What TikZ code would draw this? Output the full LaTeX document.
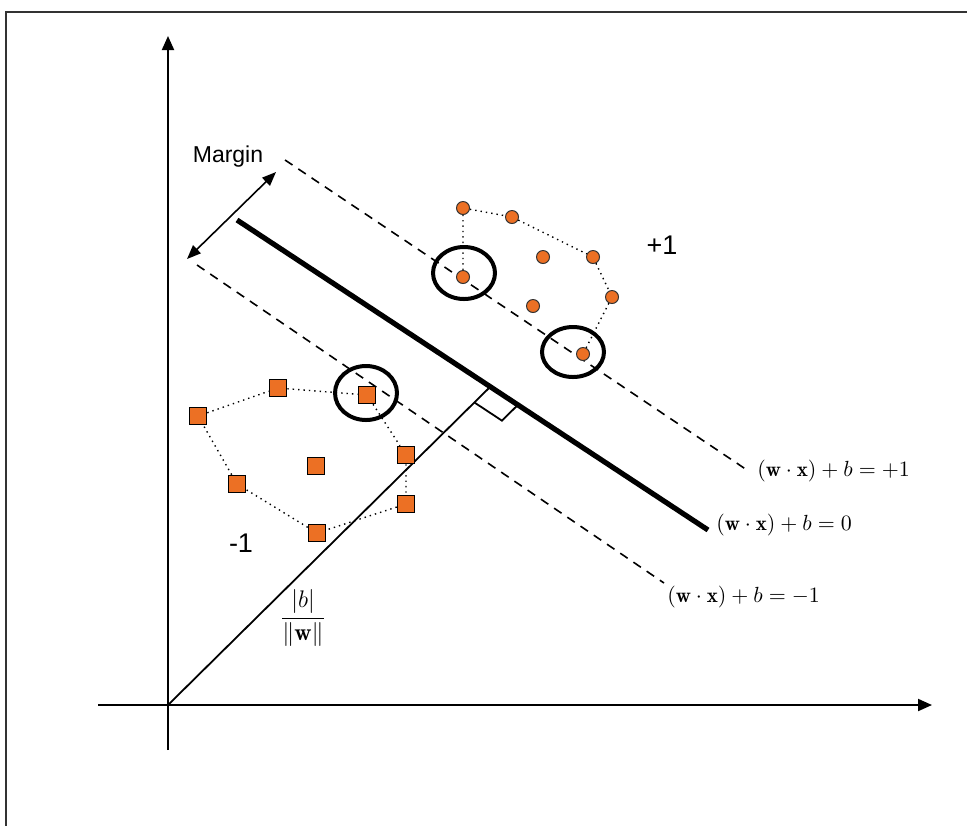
\documentclass[tikz,border=0pt]{standalone}
\usepackage{fontspec}
\setsansfont{Liberation Sans}
\usetikzlibrary{arrows.meta,calc,shapes.geometric}
\definecolor{dotorange}{RGB}{236,112,36}
\begin{document}
\begin{tikzpicture}[x=0.5pt,y=-0.5pt,
  frame/.style={line width=1.2pt,black!80},
  axis/.style={line width=1pt,-{Triangle[length=7pt,width=6pt]}},
  hyper/.style={line width=2.6pt},
  marginline/.style={line width=0.8pt,dash pattern=on 4.5pt off 3.5pt},
  hull/.style={line width=0.7pt,dotted},
  pdot/.style={circle,draw=black!80,line width=0.5pt,fill=dotorange,inner sep=0pt,minimum size=6.5pt},
  nsq/.style={rectangle,draw=black,line width=0.8pt,fill=dotorange,inner sep=0pt,minimum size=8.5pt},
  sv/.style={ellipse,draw,line width=2pt,inner sep=0pt},
  lab/.style={font=\sffamily\fontsize{13.5}{15}\selectfont,inner sep=0pt},
  eqlab/.style={anchor=west,inner sep=0pt,font=\fontsize{10.5}{12}\selectfont}]
\useasboundingbox (0,0) rectangle (967,826);
% frame
\draw[frame] (5,12) -- (967,12);
\draw[frame] (6,12) -- (6,826);
% axes
\coordinate (O) at (168,705);
\coordinate (xs) at (98,705);
\coordinate (xe) at (932,705);
\coordinate (ys) at (168,750);
\coordinate (ye) at (168,36);
\draw[axis] (xs) -- (xe);
\draw[axis] (ys) -- (ye);
% hyperplane and margins
\coordinate (h1) at (237,220);
\coordinate (h2) at (708,530);
\coordinate (u1) at (285,160);
\coordinate (u2) at (750,472);
\coordinate (l1) at (197,265);
\coordinate (l2) at (664,583);
\draw[hyper] (h1) -- (h2);
\draw[marginline] (u1) -- (u2);
\draw[marginline] (l1) -- (l2);
% labels of lines
\node[eqlab] (equ) at (757,471) {$(\mathbf{w}\cdot\mathbf{x})+b=+1$};
\node[eqlab] (eqh) at (716,525) {$(\mathbf{w}\cdot\mathbf{x})+b=0$};
\node[eqlab] (eql) at (667,597) {$(\mathbf{w}\cdot\mathbf{x})+b=-1$};
% margin arrow
\coordinate (ma) at (187,259);
\coordinate (mb) at (276,172);
\draw[line width=0.8pt,{Triangle[length=7pt,width=5.5pt]}-{Triangle[length=7pt,width=5.5pt]}] (ma) -- (mb);
\node[font=\sffamily\fontsize{11.5}{13}\selectfont,inner sep=0pt] (margin) at (228,157) {Margin};
% perpendicular from origin
\coordinate (F) at (490,387);
\draw[line width=0.9pt] (O) -- (F);
\coordinate (P1) at (474.3,402.4);
\coordinate (P2) at (501.9,420.6);
\coordinate (P3) at (517.6,405.2);
\draw[line width=0.9pt] (P1) -- (P2) -- (P3);
\node[inner sep=0pt] (frac) at (303,618) {\fontsize{12}{14}\selectfont$\displaystyle\frac{|b|}{\|\mathbf{w}\|}$};
% class +1 points
\node[pdot] (c1) at (463,208) {};
\node[pdot] (c2) at (512,217) {};
\node[pdot] (c3) at (543,257) {};
\node[pdot] (c4) at (593,257) {};
\node[pdot] (c5) at (612,297) {};
\node[pdot] (c6) at (533,306) {};
\node[pdot] (c7) at (463,277) {};
\node[pdot] (c8) at (583,354) {};
\draw[hull] (c7) -- (c1) -- (c2) -- (c4) -- (c5) -- (c8);
\node[sv,minimum width=31pt,minimum height=26pt] (s1) at (464,273) {};
\node[sv,minimum width=31pt,minimum height=25pt] (s2) at (573,352) {};
% class -1 points
\node[nsq] (q1) at (198,416) {};
\node[nsq] (q2) at (278,388) {};
\node[nsq] (q3) at (367,395) {};
\node[nsq] (q4) at (406,455) {};
\node[nsq] (q5) at (406,504) {};
\node[nsq] (q6) at (317,533) {};
\node[nsq] (q7) at (237,484) {};
\node[nsq] (q8) at (316,466) {};
\draw[hull] (q1) -- (q2) -- (q3) -- (q4) -- (q5) -- (q6) -- (q7) -- (q1);
\node[sv,minimum width=31pt,minimum height=27pt] (s3) at (366,393) {};
% class labels
\node[lab] (plus) at (662,245) {+1};
\node[lab] (minus) at (241,543) {-1};
\end{tikzpicture}
\end{document}
